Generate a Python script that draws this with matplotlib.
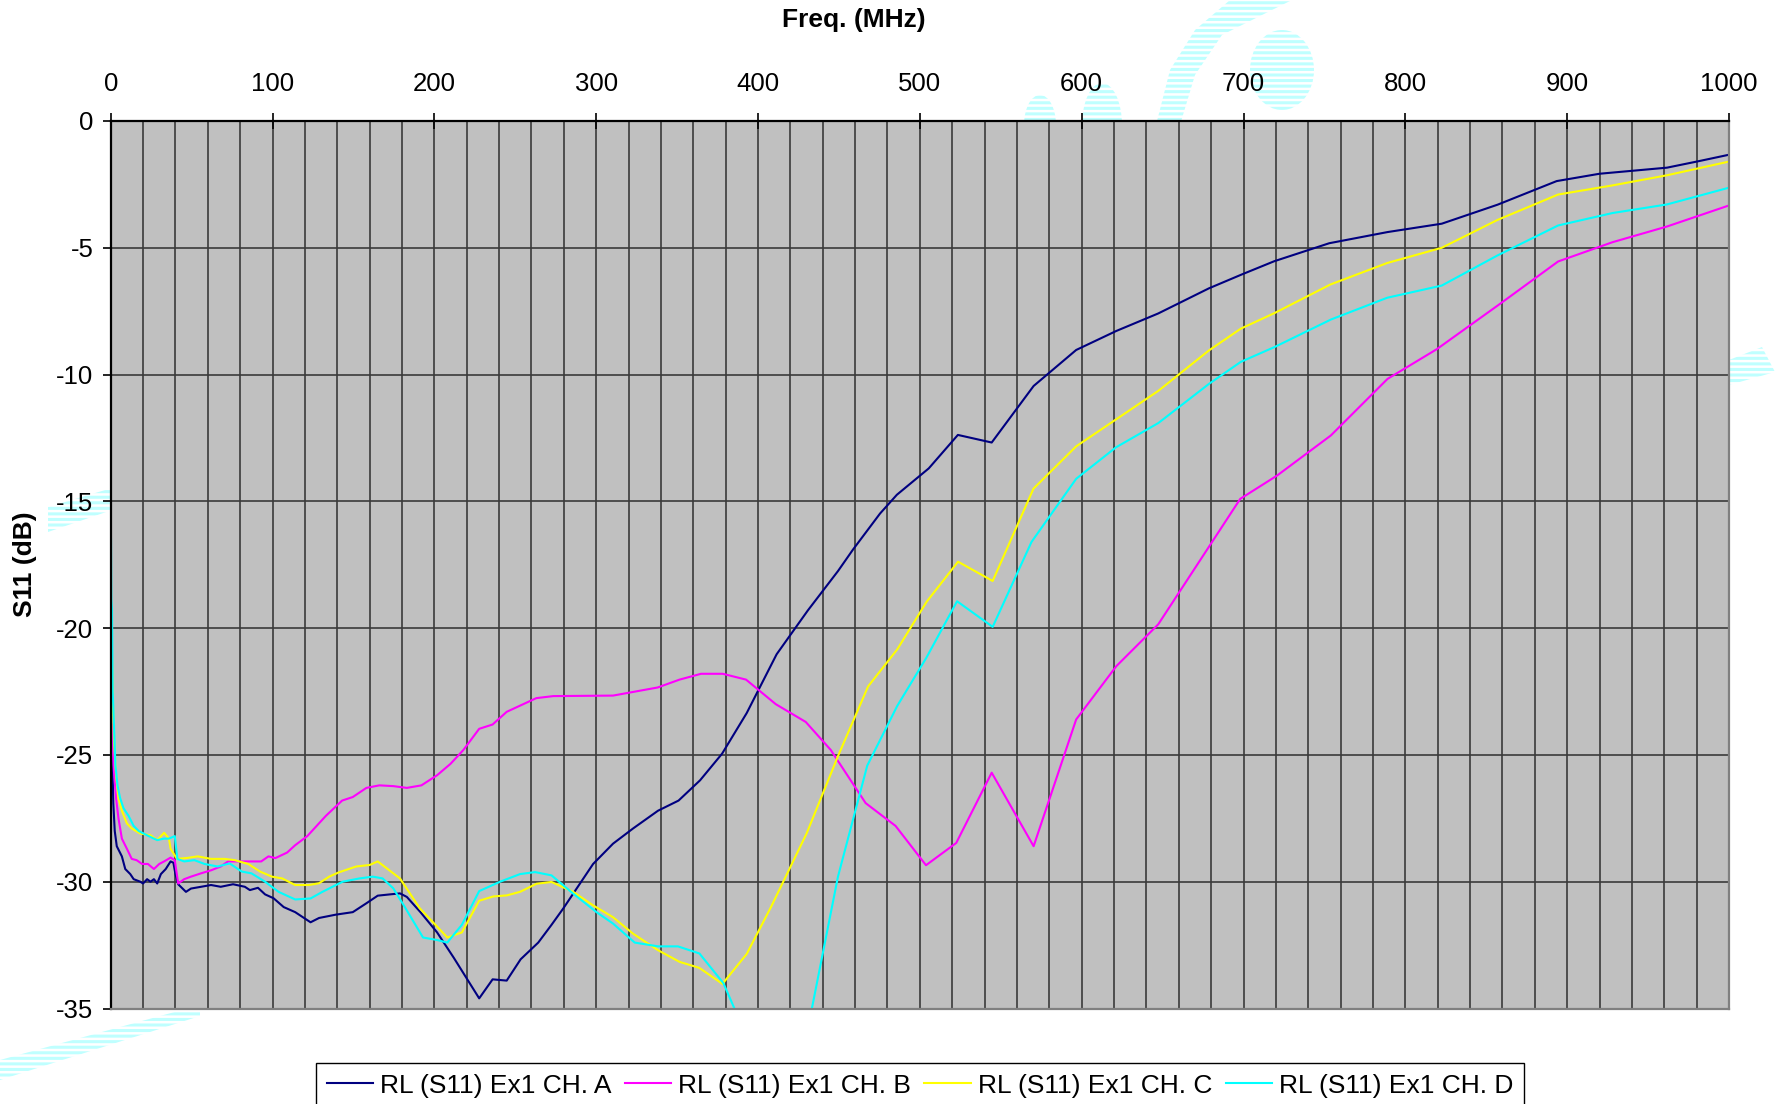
import matplotlib.pyplot as plt
from matplotlib.patches import Ellipse, Polygon
from matplotlib.ticker import MultipleLocator
from matplotlib.transforms import IdentityTransform

plt.rcParams["font.family"] = ["Liberation Sans", "DejaVu Sans"]
plt.rcParams["axes.unicode_minus"] = False
plt.rcParams["hatch.color"] = "#bfffff"
plt.rcParams["hatch.linewidth"] = 2.2

W, H = 1778, 1104

# --- data ---
freq_a = [0.5, 0.8, 1.6, 2.5, 3.75, 6.9, 9, 12.1, 14.2, 18.3, 20, 22.5, 24.6, 26.7,
          28.75, 31, 34, 37, 38.75, 40, 41.7, 46.5, 49.6, 55.8, 62, 68, 75.6, 82.9,
          86, 91, 95.4, 100.6, 106.9, 114, 123.5, 128.75, 139, 149.6, 158, 165,
          172.5, 178.75, 183, 191.4, 201.7, 212, 227.7, 236, 244.7, 253.3, 264.2,
          272.4, 279.6, 289.9, 298.1, 310.4, 322.8, 338.2, 350.9, 364.2, 377.8, 393,
          411.5, 430.8, 449.4, 458.7, 475.4, 485.8, 505.5, 523.5, 544.4, 570.3,
          596.6, 621.4, 647.3, 678.6, 699, 719, 753, 789, 822.5, 857, 893.5, 920,
          961.7, 981.6, 1000]
s11_a = [-23.8, -24.7, -26.9, -28.0, -28.6, -29.0, -29.5, -29.7, -29.9, -30.0, -30.07,
         -29.9, -30.0, -29.9, -30.07, -29.7, -29.5, -29.2, -29.25, -29.7, -30.1, -30.4,
         -30.27, -30.2, -30.13, -30.2, -30.1, -30.2, -30.33, -30.24, -30.5, -30.65,
         -31.0, -31.2, -31.6, -31.43, -31.3, -31.2, -30.85, -30.55, -30.5, -30.46,
         -30.6, -31.2, -32.0, -33.0, -34.6, -33.85, -33.9, -33.06, -32.4, -31.7,
         -31.06, -30.08, -29.3, -28.5, -27.9, -27.2, -26.8, -26.0, -24.95, -23.35,
         -21.03, -19.3, -17.75, -16.9, -15.48, -14.74, -13.7, -12.38, -12.68, -10.45,
         -9.03, -8.28, -7.59, -6.6, -6.05, -5.53, -4.82, -4.38, -4.05, -3.3, -2.37,
         -2.08, -1.84, -1.58, -1.33]

freq_b = [0.5, 1.7, 3.3, 4.8, 6.9, 10, 13, 16, 19.4, 23, 26.7, 30, 33, 37, 39.6, 41.7,
          45.4, 49.6, 55.8, 62, 68, 72.5, 80.8, 93, 97.5, 101.7, 109, 114, 121.5, 133,
          143, 149.6, 158, 166, 174.6, 183, 192, 201.7, 210, 218, 227.7, 236, 244.7,
          263, 273.5, 310.4, 338, 351.5, 364.8, 378.2, 392.6, 411, 429.5, 444.9,
          466.5, 485, 503.8, 522.5, 544.4, 570.3, 596.6, 621.4, 647.3, 698, 720.8,
          754, 789, 819.4, 857, 894.4, 928, 961.7, 1000]
s11_b = [-23.5, -25.4, -26.7, -27.5, -28.3, -28.7, -29.1, -29.15, -29.3, -29.3, -29.5,
         -29.3, -29.2, -29.05, -29.15, -30.07, -29.9, -29.8, -29.67, -29.55, -29.4,
         -29.2, -29.2, -29.2, -29.0, -29.07, -28.85, -28.56, -28.2, -27.4, -26.8,
         -26.66, -26.3, -26.2, -26.23, -26.3, -26.2, -25.8, -25.35, -24.8, -23.97,
         -23.8, -23.3, -22.76, -22.68, -22.66, -22.34, -22.03, -21.8, -21.8, -22.03,
         -23.0, -23.7, -24.8, -26.9, -27.8, -29.35, -28.47, -25.7, -28.6, -23.6,
         -21.5, -19.85, -14.9, -13.98, -12.4, -10.17, -9.0, -7.28, -5.54, -4.78,
         -4.16, -3.33]

freq_c = [0.3, 0.6, 1.25, 2, 3.3, 4.8, 6.9, 10, 13, 18.3, 24.6, 28.75, 33, 36, 37, 41,
          47.5, 53.75, 62, 70.4, 76.7, 85, 92.3, 99.6, 106, 114, 122.5, 128.75, 135,
          141, 151.7, 160, 165, 178.75, 191, 201.7, 208, 217, 227.7, 236.5, 244.7,
          252.9, 263.2, 272.4, 285.8, 298, 310.4, 322.8, 338.2, 351.5, 363.8, 378,
          393, 408, 430, 449.4, 468, 486, 504.3, 523.6, 545, 570.2, 596.6, 621.2,
          647.4, 678.6, 698.3, 719.3, 753.6, 788.8, 822.5, 857, 894.4, 928, 961.7,
          1000]
s11_c = [-19.8, -20.4, -22.7, -24.4, -25.8, -26.7, -27.2, -27.7, -27.9, -28.1, -28.17,
         -28.36, -28.07, -28.3, -28.7, -29.1, -29.06, -29.0, -29.1, -29.1, -29.15,
         -29.3, -29.6, -29.8, -29.87, -30.13, -30.13, -30.06, -29.8, -29.63, -29.4,
         -29.34, -29.2, -29.87, -31.05, -31.77, -32.2, -32.0, -30.75, -30.58, -30.54,
         -30.4, -30.08, -30.01, -30.4, -30.93, -31.4, -32.05, -32.7, -33.16, -33.4,
         -34.03, -32.85, -31.0, -28.1, -25.05, -22.3, -20.84, -18.95, -17.38, -18.14,
         -14.5, -12.83, -11.77, -10.64, -9.05, -8.19, -7.57, -6.45, -5.6, -5.0, -3.9,
         -2.9, -2.54, -2.14, -1.6]

freq_d = [0.2, 0.4, 0.8, 1.25, 2, 2.9, 4.2, 5.8, 7.9, 11, 14.2, 17.3, 22.5, 26.7, 28.75,
          33, 36, 39.6, 41.2, 45.4, 51.7, 58, 66, 73.5, 81, 87, 95.4, 103.75, 114,
          123.5, 130.8, 143.3, 153.75, 162, 168, 174.6, 180.8, 193, 201.7, 208, 217,
          227.7, 240.6, 252.9, 262.2, 272.4, 285.8, 300.2, 310.4, 323.8, 338.2, 350.5,
          363.8, 378.6, 393.6, 412, 430.8, 449.4, 467.5, 486, 504, 523, 545, 569,
          596.6, 621.2, 647.4, 678.6, 698.3, 719.3, 754, 788.8, 822.5, 857, 894.4,
          928, 961.7, 1000]
s11_d = [-16.5, -18.86, -19.25, -22.5, -23.8, -25.4, -26.2, -26.7, -27.1, -27.4, -27.8,
         -28.0, -28.17, -28.3, -28.36, -28.3, -28.3, -28.2, -29.1, -29.2, -29.15, -29.3,
         -29.4, -29.28, -29.6, -29.67, -30.0, -30.4, -30.7, -30.66, -30.4, -30.0,
         -29.87, -29.8, -29.87, -30.26, -30.9, -32.2, -32.3, -32.4, -31.7, -30.37,
         -30.0, -29.7, -29.62, -29.75, -30.47, -31.2, -31.65, -32.4, -32.55, -32.55,
         -32.83, -34.0, -36.2, -41.0, -35.8, -29.8, -25.42, -23.07, -21.17, -18.94,
         -19.95, -16.6, -14.11, -12.87, -11.91, -10.37, -9.5, -8.91, -7.83, -6.97,
         -6.49, -5.3, -4.12, -3.63, -3.29, -2.63]

series_labels = ["RL (S11) Ex1 CH. A", "RL (S11) Ex1 CH. B",
                 "RL (S11) Ex1 CH. C", "RL (S11) Ex1 CH. D"]
series_colors = ["#000080", "#ff00ff", "#ffff00", "#00ffff"]
x_ticks = list(range(0, 1001, 100))
y_ticks = list(range(-35, 1, 5))


def img_xy(pts):
    """image pixel coords (origin top-left) -> display coords."""
    return [(x, H - y) for x, y in pts]


def draw_watermark(fig):
    """faint hatched logo pieces peeking around the plot area."""
    kw = dict(transform=IdentityTransform(), facecolor="white", edgecolor="#bfffff",
              hatch="---", linewidth=0, zorder=-1)
    fig.add_artist(Ellipse((1282, H - 70), 64, 80, **kw))
    fig.add_artist(Ellipse((1040, H - 125), 32, 60, **kw))
    fig.add_artist(Ellipse((1102, H - 125), 40, 84, **kw))
    fig.add_artist(Polygon(img_xy([(1230, 0), (1195, 30), (1170, 70), (1156, 125),
                                   (1180, 125), (1195, 75), (1222, 35), (1292, 0)]), **kw))
    fig.add_artist(Polygon(img_xy([(0, 1060), (0, 1080), (200, 1016), (200, 1005)]), **kw))
    fig.add_artist(Polygon(img_xy([(1729, 360), (1762, 347), (1775, 372), (1729, 385)]), **kw))
    fig.add_artist(Polygon(img_xy([(48, 507), (112, 488), (112, 510), (48, 532)]), **kw))


def main():
    fig = plt.figure(figsize=(W / 100, H / 100), dpi=100)
    draw_watermark(fig)
    ax = fig.add_axes([110.7 / W, 1 - 1008.5 / H, (1729 - 110.7) / W, (1008.5 - 121) / H])
    ax.set_facecolor("#c0c0c0")

    series = [(freq_a, s11_a), (freq_b, s11_b), (freq_c, s11_c), (freq_d, s11_d)]
    for (f, s), lab, col in zip(series, series_labels, series_colors):
        ax.plot(f, s, color=col, lw=1.5, label=lab)

    ax.set_xlim(0, 1000)
    ax.set_ylim(-35, 0)
    ax.set_xticks(x_ticks)
    ax.set_yticks(y_ticks)
    ax.xaxis.set_minor_locator(MultipleLocator(20))
    ax.grid(True, which="both", axis="x", color="#3a3a3a", lw=1.2)
    ax.grid(True, which="major", axis="y", color="#3a3a3a", lw=1.2)
    ax.set_axisbelow(True)

    ax.tick_params(axis="x", which="major", top=True, bottom=False, labeltop=True,
                   labelbottom=False, direction="inout", length=12, width=1.2,
                   labelsize=18.5, pad=12)
    ax.tick_params(axis="x", which="minor", top=False, bottom=False)
    ax.tick_params(axis="y", direction="out", length=5.5, width=1.2, labelsize=18.5, pad=7)

    ax.spines["top"].set_color("black")
    ax.spines["left"].set_color("black")
    ax.spines["top"].set_linewidth(1.6)
    ax.spines["left"].set_linewidth(1.6)
    ax.spines["bottom"].set_color("#808080")
    ax.spines["right"].set_color("#808080")
    ax.spines["bottom"].set_linewidth(1.6)
    ax.spines["right"].set_linewidth(1.6)

    fig.text(854 / W, 1 - 20 / H, "Freq. (MHz)", ha="center", va="center",
             fontsize=19, fontweight="bold")
    fig.text(25 / W, 1 - 564 / H, "S11 (dB)", ha="center", va="center",
             rotation=90, fontsize=19, fontweight="bold")

    leg = ax.legend(loc="upper center", bbox_to_anchor=(920 / W, 1 - 1063 / H),
                    bbox_transform=fig.transFigure, ncol=4, fontsize=19,
                    frameon=True, fancybox=False, framealpha=1, edgecolor="black",
                    borderpad=0.4, handlelength=1.75, handletextpad=0.28,
                    columnspacing=0.5, borderaxespad=0)
    leg.get_frame().set_linewidth(1.0)

    fig.savefig("out.png", dpi=100)


if __name__ == "__main__":
    main()
